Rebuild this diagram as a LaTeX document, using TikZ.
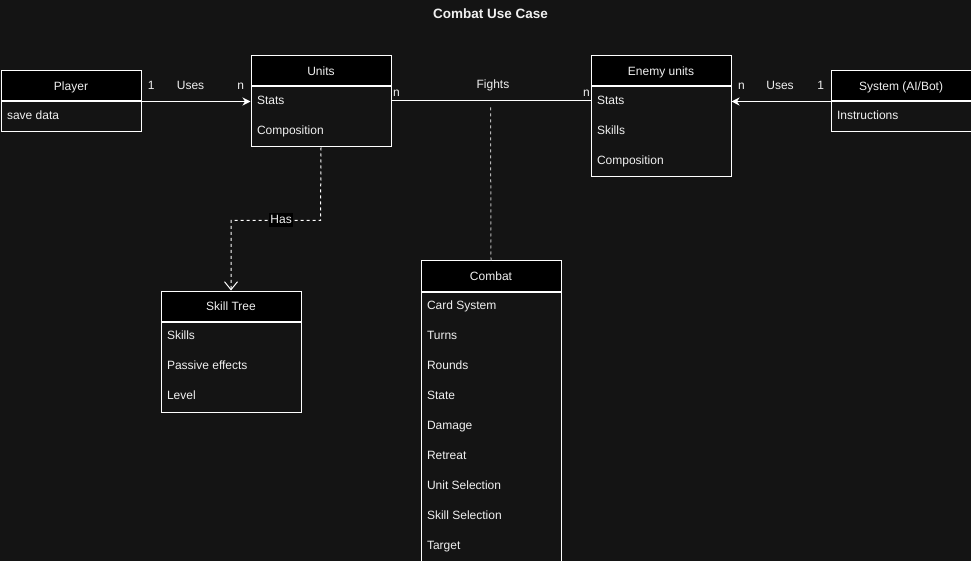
\documentclass[tikz,border=0pt]{standalone}
\usepackage{fontspec}
\setmainfont{Liberation Sans}
\usetikzlibrary{positioning}
\usetikzlibrary{arrows.meta}
\definecolor{bgdark}{HTML}{141414}
\definecolor{inkwhite}{HTML}{F0F0F0}
\definecolor{linkgray}{HTML}{B8B8B8}
\tikzset{
    flat/.style = {text height=8.6pt, text depth=0pt},
    header/.style = {rectangle, draw=white, fill=black, text=inkwhite, flat, minimum width=140pt, minimum height=30pt, anchor=north west, inner sep=0pt},
    body/.style = {rectangle, draw=white, minimum width=140pt, anchor=north, inner sep=0pt},
    field/.style = {anchor=west, text=inkwhite, flat, inner sep=0pt},
    tag/.style = {text=inkwhite, flat, inner sep=0pt},
    haslabel/.style = {text=inkwhite, fill=black, text height=9.5pt, text depth=2.5pt, inner sep=1pt},
    usesline/.style = {-{Stealth[length=8pt,width=8pt,inset=2.5pt]}, draw=white},
    fightsline/.style = {draw=white},
    hasline/.style = {-{Straight Barb[length=8pt,width=13pt]}, draw=white, dashed},
    linkline/.style = {draw=linkgray, dashed},
    title/.style = {text=inkwhite, text height=10pt, text depth=0pt, font=\fontsize{13.5}{16}\selectfont\bfseries}
}
\begin{document}
\begin{tikzpicture}[x=1pt, y=-1pt, line width=1pt, font=\fontsize{12}{14}\selectfont]
  \fill[bgdark] (0,0) rectangle (971,561);
  \useasboundingbox (0,0) rectangle (971,561);

  \begin{scope}[shift={(0.5,0.5)}]
  \node[title] (title) at (490,13) {Combat Use Case};

  % player
  \node[header] (player) at (0,70) {Player};
  \node[body, minimum height=30pt, anchor=north] (playerbody) at (player.south) {};
  \node[field] (playersave) at (6,115) {save data};

  % units
  \node[header] (units) at (250,55) {Units};
  \node[body, minimum height=60pt] (unitsbody) at (units.south) {};
  \node[field] (unitsstats) at (256,100) {Stats};
  \node[field] (unitscomp) at (256,130) {Composition};

  % enemy units
  \node[header] (enemy) at (590,55) {Enemy units};
  \node[body, minimum height=90pt] (enemybody) at (enemy.south) {};
  \node[field] (enemystats) at (596,100) {Stats};
  \node[field] (enemyskills) at (596,130) {Skills};
  \node[field] (enemycomp) at (596,160) {Composition};

  % system
  \node[header] (system) at (830,70) {System (AI/Bot)};
  \node[body, minimum height=30pt] (systembody) at (system.south) {};
  \node[field] (systeminstr) at (836,115) {Instructions};

  % skill tree
  \node[header] (skill) at (160,290) {Skill Tree};
  \node[body, minimum height=90pt] (skillbody) at (skill.south) {};
  \node[field] (skillskills) at (166,335) {Skills};
  \node[field] (skillpassive) at (166,365) {Passive effects};
  \node[field] (skilllevel) at (166,395) {Level};

  % combat
  \node[header] (combat) at (420,260) {Combat};
  \node[body, minimum height=270pt] (combatbody) at (combat.south) {};
  \foreach \item [count=\i] in {Card System, Turns, Rounds, State, Damage, Retreat, Unit Selection, Skill Selection, Target}
    \node[field] (combat-\i) at (426,275+30*\i) {\item};

  % connectors
  \draw[usesline] (player.south east) -- node[tag, pos=0.09, yshift=16pt] (uses1one) {1}
                                          node[tag, pos=0.45, yshift=16pt] (uses1) {Uses}
                                          node[tag, pos=0.91, yshift=16pt] (uses1n) {n}
        (unitsbody.west |- player.south east);
  \draw[fightsline] (unitsbody.east |- unitsstats) -- node[tag, pos=0.025, yshift=8pt] (fightsn1) {n}
                                          node[tag, pos=0.51, yshift=16pt] (fights) {Fights}
                                          node[tag, pos=0.98, yshift=8pt] (fightsn2) {n}
        (enemybody.west |- unitsstats);
  \draw[usesline] (system.south west) -- node[tag, pos=0.1, yshift=16pt] (uses2one) {1}
                                          node[tag, pos=0.51, yshift=16pt] (uses2) {Uses}
                                          node[tag, pos=0.9, yshift=16pt] (uses2n) {n}
        (enemybody.east |- system.south west);

  \coordinate (hasbend) at (320,220);
  \draw[hasline] (unitsbody.south) -- (hasbend) -| node[haslabel, pos=0.22] (has) {Has} (skill.north);

  \coordinate (fightslink) at (490,107);
  \draw[linkline] (fightslink) -- (combat.north);
  \end{scope}
\end{tikzpicture}
\end{document}
